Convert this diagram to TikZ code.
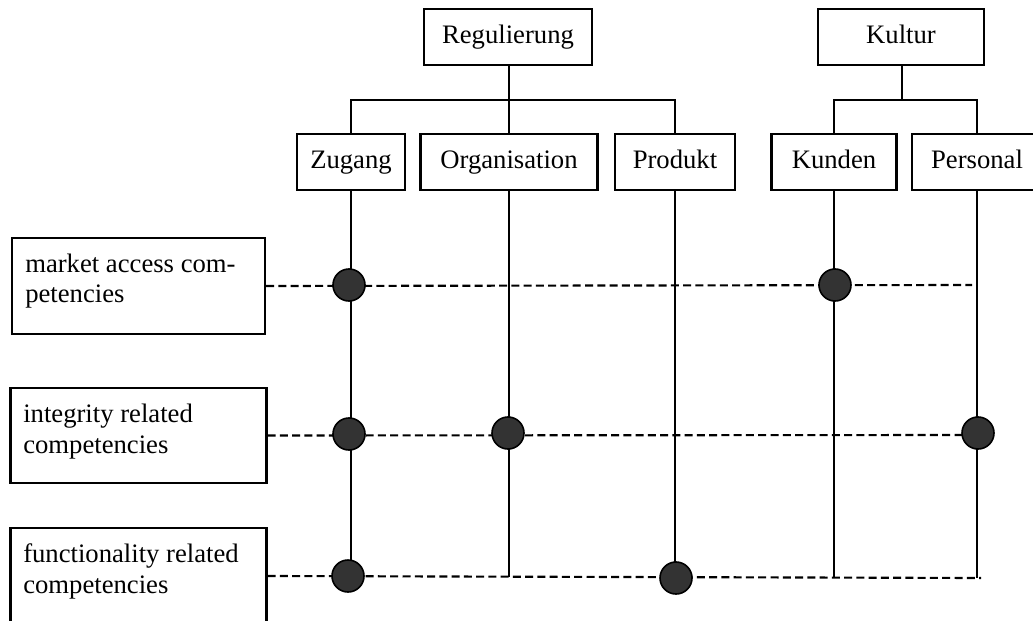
\documentclass[tikz,border=0pt]{standalone}
\usepackage{fontspec}
\setmainfont{Liberation Serif}
\begin{document}
\begin{tikzpicture}[x=0.75pt,y=-0.75pt,
  every node/.style={font=\fontsize{20}{22.5}\selectfont},
  topbox/.style={draw,line width=1.6pt,inner sep=0pt,minimum height=56*0.75pt,text height=14pt,text depth=5pt},
  leftbox/.style={draw,line width=1.6pt,inner sep=0pt,minimum width=256*0.75pt,minimum height=96*0.75pt},
  lefttext/.style={inner sep=0pt,anchor=base west},
  tree/.style={line width=1.6pt},
  axis/.style={line width=1.6pt},
  link/.style={line width=1.6pt,dash pattern=on 6pt off 3.2pt},
  dot/.style={circle,draw,fill=black!80,line width=1.2pt,inner sep=0pt,minimum size=32*0.75pt}]
\useasboundingbox (0,0) rectangle (1033,621);
\clip (0,0) rectangle (1033,621);

% category boxes
\node[topbox,minimum width=168*0.75pt] (reg) at (508,37) {Regulierung};
\node[topbox,minimum width=166*0.75pt] (kul) at (901,37) {Kultur};
\node[topbox,minimum width=108*0.75pt] (zug) at (351,162) {Zugang};
\node[topbox,minimum width=177*0.75pt] (org) at (509,162) {Organisation};
\node[topbox,minimum width=120*0.75pt] (pro) at (675,162) {Produkt};
\node[topbox,minimum width=125*0.75pt] (kun) at (834,162) {Kunden};
\node[topbox,minimum width=130*0.75pt] (per) at (977,162) {Personal};

% tree connectors
\coordinate (regbar) at (509,100);
\coordinate (kulbar) at (902,100);
\draw[tree] (reg.south -| regbar) -- (regbar);
\draw[tree] (zug.north) -- (zug.north |- regbar) -- (pro.north |- regbar) -- (pro.north);
\draw[tree] (regbar) -- (org.north);
\draw[tree] (kul.south -| kulbar) -- (kulbar);
\draw[tree] (kun.north) -- (kun.north |- kulbar) -- (per.north |- kulbar) -- (per.north);

% competency boxes, each with two lines of text
\node[leftbox,minimum width=253*0.75pt] (mac) at (138.5,286) {};
\node[lefttext] (mac1) at (25,272) {market access com-};
\node[lefttext] (mac2) at (25,302) {petencies};
\node[leftbox,minimum height=95*0.75pt] (irc) at (138.5,435.5) {};
\node[lefttext] (irc1) at (23,422) {integrity related};
\node[lefttext] (irc2) at (23,453) {competencies};
\node[leftbox] (frc) at (138.5,576) {};
\node[lefttext] (frc1) at (23,562) {functionality related};
\node[lefttext] (frc2) at (23,593) {competencies};

% vertical axes
\coordinate (zugend) at (351,577);
\coordinate (orgend) at (509,577);
\coordinate (proend) at (675,578);
\coordinate (kunend) at (834,577);
\coordinate (perend) at (977,578);
\draw[axis] (zug.south) -- (zugend);
\draw[axis] (org.south) -- (orgend);
\draw[axis] (pro.south) -- (proend);
\draw[axis] (kun.south) -- (kunend);
\draw[axis] (per.south) -- (perend);

% horizontal dashed links
\coordinate (row1end) at (972,285);
\coordinate (row2end) at (977,435);
\coordinate (row3end) at (981,578);
\draw[link] (mac.east) -- (row1end);
\draw[link] (irc.east) -- (row2end);
\draw[link] (frc.east) -- (row3end);

% intersection markers
\node[dot] (d1z) at (349,285) {};
\node[dot] (d1k) at (835,285) {};
\node[dot] (d2z) at (349,434) {};
\node[dot] (d2o) at (508,433) {};
\node[dot] (d2p) at (978,433) {};
\node[dot] (d3z) at (348,576) {};
\node[dot] (d3p) at (676,578) {};
\end{tikzpicture}
\end{document}
